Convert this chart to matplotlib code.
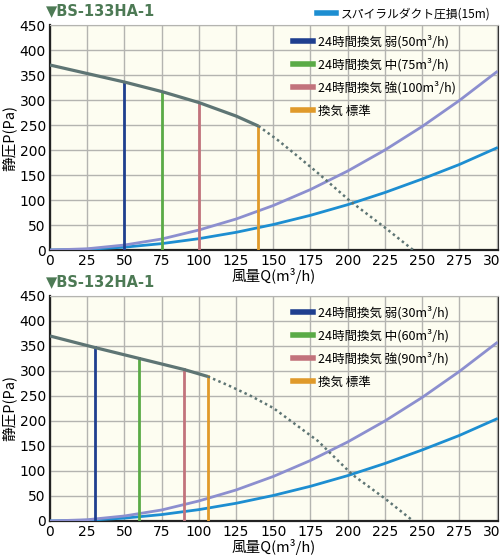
import matplotlib
matplotlib.use('Agg')
import matplotlib.pyplot as plt
from matplotlib.lines import Line2D

plt.rcParams['font.family'] = ['Noto Sans CJK JP', 'DejaVu Sans']

# duct pressure loss curves (shared by both charts)
duct_q = [0, 25, 50, 75, 100, 125, 150, 175, 200, 225, 250, 275, 300]
duct_blue = [0, 1.4, 5.7, 12.8, 22.7, 35.4, 51, 69.4, 90.7, 115, 142, 171, 204]
duct_purple = [0, 2.5, 10, 22, 40, 62, 89, 121, 158, 200, 247, 299, 356]

# BS-133HA-1
fan1_q = [0, 25, 50, 75, 100, 125, 140]
fan1_p = [370, 353, 336, 317, 295, 268, 248]
fan1_dot_q = [140, 153, 165, 180, 202, 225, 244]
fan1_dot_p = [248, 220, 191, 154, 97, 45, 0]
mode1_q = [50, 75, 100, 140]
mode1_p = [336, 317, 295, 248]
mode1_labels = ['24時間換気 弱(50m³/h)', '24時間換気 中(75m³/h)',
                '24時間換気 強(100m³/h)', '換気 標準']

# BS-132HA-1
fan2_q = [0, 30, 60, 90, 106]
fan2_p = [370, 347, 325, 303, 289]
fan2_dot_q = [106, 120, 135, 150, 180, 203, 225, 244]
fan2_dot_p = [289, 271, 250, 226, 160, 93, 45, 0]
mode2_q = [30, 60, 90, 106]
mode2_p = [347, 325, 303, 289]
mode2_labels = ['24時間換気 弱(30m³/h)', '24時間換気 中(60m³/h)',
                '24時間換気 強(90m³/h)', '換気 標準']

mode_colors = ['#1f3f8f', '#5aab46', '#c2737c', '#e09a2a']
fan_color = '#5e7574'
blue_c = '#1d8ed1'
purple_c = '#8c8fcf'
bg = '#fdfdf1'
title_green = '#4d7a55'

xticks = list(range(0, 301, 25))
yticks = list(range(0, 451, 50))


def draw_chart(ax, title, fq, fp, dq, dp, mq, mp, labels):
    ax.set_facecolor(bg)
    ax.plot(duct_q, duct_blue, color=blue_c, lw=2.0, zorder=3)
    ax.plot(duct_q, duct_purple, color=purple_c, lw=2.0, zorder=3)
    for q, p, c in zip(mq, mp, mode_colors):
        ax.plot([q, q], [0, p], color=c, lw=2.0, zorder=4)
    ax.plot(fq, fp, color=fan_color, lw=2.3, zorder=5, solid_capstyle='butt')
    ax.plot(dq, dp, color=fan_color, lw=1.8, linestyle=(0, (1, 1.3)), zorder=5)
    ax.set_xlim(0, 301)
    ax.set_ylim(0, 450)
    ax.set_xticks(xticks)
    ax.set_yticks(yticks)
    ax.grid(True, color='#b4b4b0', lw=1.0, zorder=0)
    ax.set_axisbelow(True)
    ax.tick_params(length=0, labelsize=10, pad=3)
    for lab in ax.get_xticklabels() + ax.get_yticklabels():
        lab.set_fontfamily(['Liberation Sans Narrow', 'DejaVu Sans'])
    ax.spines['left'].set_color('#222222')
    ax.spines['bottom'].set_color('#222222')
    ax.spines['left'].set_linewidth(1.6)
    ax.spines['bottom'].set_linewidth(1.6)
    ax.spines['top'].set_color('#b4b4b0')
    ax.spines['right'].set_color('#333333')
    ax.set_ylabel('静圧P(Pa)', fontsize=10.5, labelpad=2)
    ax.set_xlabel('風量Q(m³/h)', fontsize=10.5, labelpad=0)
    ax.text(-0.01, 1.03, '▼' + title, transform=ax.transAxes, color=title_green,
            fontsize=10.5, fontweight='bold', ha='left', va='bottom',
            family=['DejaVu Sans'])
    handles = [Line2D([], [], color=c, lw=4) for c in mode_colors]
    leg = ax.legend(handles, labels, loc='upper left', bbox_to_anchor=(0.522, 0.995),
                    frameon=False, fontsize=9, handlelength=1.6, handletextpad=0.45,
                    labelspacing=0.78, borderpad=0.2)
    leg.set_zorder(6)
    return leg


fig = plt.figure(figsize=(5.0, 5.55), dpi=100)
ax1 = fig.add_axes([0.1, 0.5495, 0.896, 0.4054])
ax2 = fig.add_axes([0.1, 0.0613, 0.896, 0.4054])
leg1 = draw_chart(ax1, 'BS-133HA-1', fan1_q, fan1_p, fan1_dot_q, fan1_dot_p,
                  mode1_q, mode1_p, mode1_labels)
draw_chart(ax2, 'BS-132HA-1', fan2_q, fan2_p, fan2_dot_q, fan2_dot_p,
           mode2_q, mode2_p, mode2_labels)

# spiral duct legend above the top chart
ax1.add_artist(leg1)
ax1.legend([Line2D([], [], color=blue_c, lw=4)], ['スパイラルダクト圧損(15m)'],
           loc='lower right', bbox_to_anchor=(1.0, 0.99), frameon=False,
           fontsize=8.5, handlelength=1.6, handletextpad=0.45, borderpad=0.1)

fig.savefig('out.png', dpi=100)
